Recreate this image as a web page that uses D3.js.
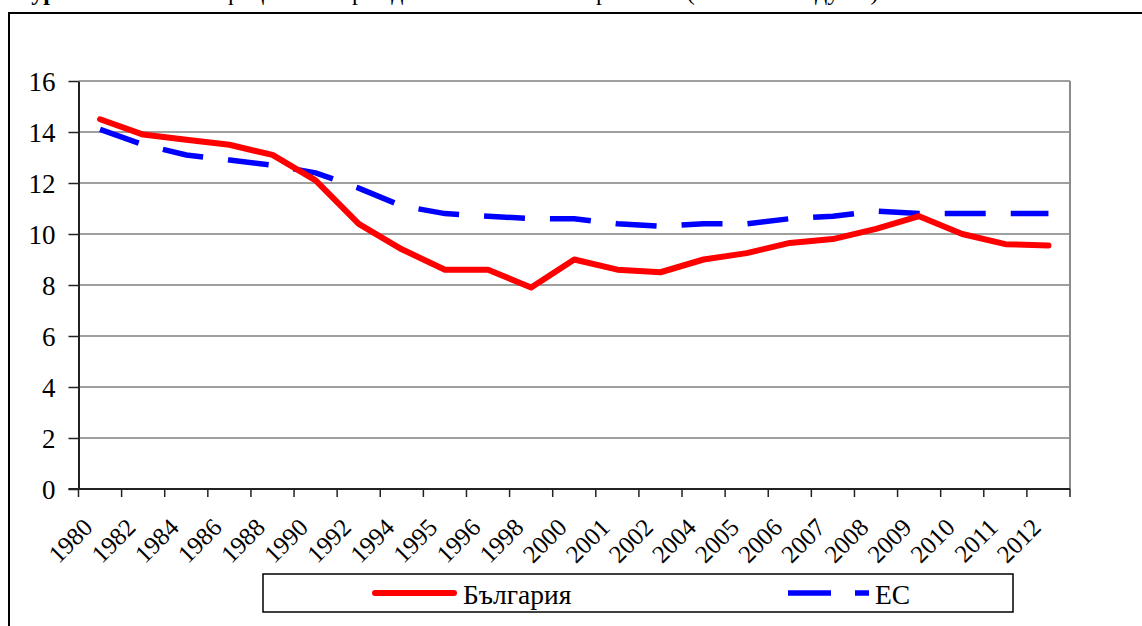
<!DOCTYPE html>
<html>
<head>
<meta charset="utf-8">
<script src="https://d3js.org/d3.v7.min.js"></script>
<style>
  body { margin: 0; background: #fff; }
  svg text { font-family: "Liberation Serif", "Times New Roman", Times, serif !important; }
</style>
</head>
<body>
<svg id="chart" width="1142" height="626"></svg>
<script>
// Data
var years = ['1980', '1982', '1984', '1986', '1988', '1990', '1992', '1994', '1995', '1996', '1998',
    '2000', '2001', '2002', '2004', '2005', '2006', '2007', '2008', '2009', '2010', '2011', '2012'];
var bulgaria = [14.5, 13.9, 13.7, 13.5, 13.1, 12.1, 10.4, 9.4, 8.6, 8.6, 7.9,
    9.0, 8.6, 8.5, 9.0, 9.25, 9.65, 9.8, 10.2, 10.7, 10.0, 9.6, 9.55];
var eu = [14.1, 13.5, 13.1, 12.9, 12.7, 12.4, 11.8, 11.1, 10.8, 10.7, 10.6,
    10.6, 10.4, 10.3, 10.4, 10.4, 10.6, 10.7, 10.9, 10.8, 10.8, 10.8, 10.8];
var yTicks = [0, 2, 4, 6, 8, 10, 12, 14, 16];
var seriesNames = ['България', 'ЕС'];

var margin = {top: 81, left: 78.5, right: 1070, bottom: 489};
var serif = '"Liberation Serif", "Times New Roman", serif';

var svg = d3.select("#chart");

// outer frame (cut by the window on the right and bottom)
svg.append("rect")
    .attr("x", 9).attr("y", 13)
    .attr("width", 1200).attr("height", 700)
    .attr("fill", "none")
    .attr("stroke", "#000")
    .attr("stroke-width", 2);

// title, only the bottom of it shows at the top edge
var title = svg.append("text")
    .attr("y", 0)
    .style("font-family", serif)
    .style("font-size", "24px")
    .attr("fill", "#000");
title.append("tspan").attr("x", -14).style("font-weight", "bold").text("Фигура 4.");
title.append("tspan").attr("x", 185).text("Коефициент на");
title.append("tspan").attr("x", 352).text("раждаемост");
title.append("tspan").attr("x", 520).text("в България и");
title.append("tspan").attr("x", 650).text("ЕС (на 1000");
title.append("tspan").attr("x", 815).text("души)");

var x = d3.scaleBand()
    .domain(years)
    .range([margin.left, margin.right]);

var y = d3.scaleLinear()
    .domain([0, 16])
    .range([margin.bottom, margin.top]);

// horizontal gridlines
svg.append("g")
    .selectAll("line")
    .data(yTicks.filter(d => d > 0))
    .enter().append("line")
    .attr("x1", margin.left).attr("x2", margin.right)
    .attr("y1", d => y(d)).attr("y2", d => y(d))
    .attr("stroke", "#7f7f7f")
    .attr("stroke-width", 1.5);

// right border of plot area
svg.append("line")
    .attr("x1", margin.right).attr("x2", margin.right)
    .attr("y1", margin.top).attr("y2", margin.bottom)
    .attr("stroke", "#8c8c8c")
    .attr("stroke-width", 2);

// y axis
var yAxis = svg.append("g")
    .attr("transform", "translate(" + margin.left + ",0)")
    .call(d3.axisLeft(y).tickValues(yTicks).tickSize(10).tickSizeOuter(0).tickPadding(13));
yAxis.attr("font-family", null);
yAxis.select(".domain").attr("stroke", "#222").attr("stroke-width", 2);
yAxis.selectAll(".tick line").attr("stroke", "#222").attr("stroke-width", 1.5);
yAxis.selectAll("text")
    .style("font-family", serif)
    .style("font-size", "27px")
    .attr("dy", "0.34em")
    .attr("fill", "#000");

// x axis: ticks between categories
var bounds = years.map(d => x(d)).concat([margin.right]);
var xAxis = svg.append("g");
xAxis.append("line")
    .attr("x1", margin.left - 10).attr("x2", margin.right)
    .attr("y1", margin.bottom).attr("y2", margin.bottom)
    .attr("stroke", "#222").attr("stroke-width", 2);
xAxis.selectAll(".btick")
    .data(bounds)
    .enter().append("line")
    .attr("class", "btick")
    .attr("x1", d => d).attr("x2", d => d)
    .attr("y1", margin.bottom).attr("y2", margin.bottom + 8)
    .attr("stroke", "#222").attr("stroke-width", 1.5);
xAxis.selectAll(".xlabel")
    .data(years)
    .enter().append("text")
    .attr("class", "xlabel")
    .attr("transform", d => "translate(" + (x(d) + x.bandwidth() / 2 - 6) + "," + (margin.bottom + 40) + ") rotate(-45)")
    .attr("text-anchor", "end")
    .style("font-family", serif)
    .style("font-size", "25px")
    .attr("fill", "#000")
    .text(d => d);

// lines
var line = d3.line()
    .x((d, i) => x(years[i]) + x.bandwidth() / 2)
    .y(d => y(d));

svg.append("path")
    .datum(eu)
    .attr("d", line)
    .attr("fill", "none")
    .attr("stroke", "#0000ff")
    .attr("stroke-width", 5.5)
    .attr("stroke-dasharray", "41,25");

svg.append("path")
    .datum(bulgaria)
    .attr("d", line)
    .attr("fill", "none")
    .attr("stroke", "#ff0000")
    .attr("stroke-width", 6)
    .attr("stroke-linejoin", "round")
    .attr("stroke-linecap", "round");

// legend
var legend = svg.append("g");
legend.append("rect")
    .attr("x", 263).attr("y", 574)
    .attr("width", 750).attr("height", 38)
    .attr("fill", "#fff")
    .attr("stroke", "#000")
    .attr("stroke-width", 1.5);
legend.append("line")
    .attr("x1", 375).attr("x2", 454)
    .attr("y1", 593).attr("y2", 593)
    .attr("stroke", "#ff0000").attr("stroke-width", 6)
    .attr("stroke-linecap", "round");
legend.append("text")
    .attr("x", 463).attr("y", 604)
    .style("font-family", serif)
    .style("font-size", "27.5px")
    .text(seriesNames[0]);
legend.append("line")
    .attr("x1", 788).attr("x2", 869)
    .attr("y1", 593).attr("y2", 593)
    .attr("stroke", "#0000ff").attr("stroke-width", 5.5)
    .attr("stroke-dasharray", "43,24");
legend.append("text")
    .attr("x", 875).attr("y", 604)
    .style("font-family", serif)
    .style("font-size", "27.5px")
    .text(seriesNames[1]);
</script>
</body>
</html>
